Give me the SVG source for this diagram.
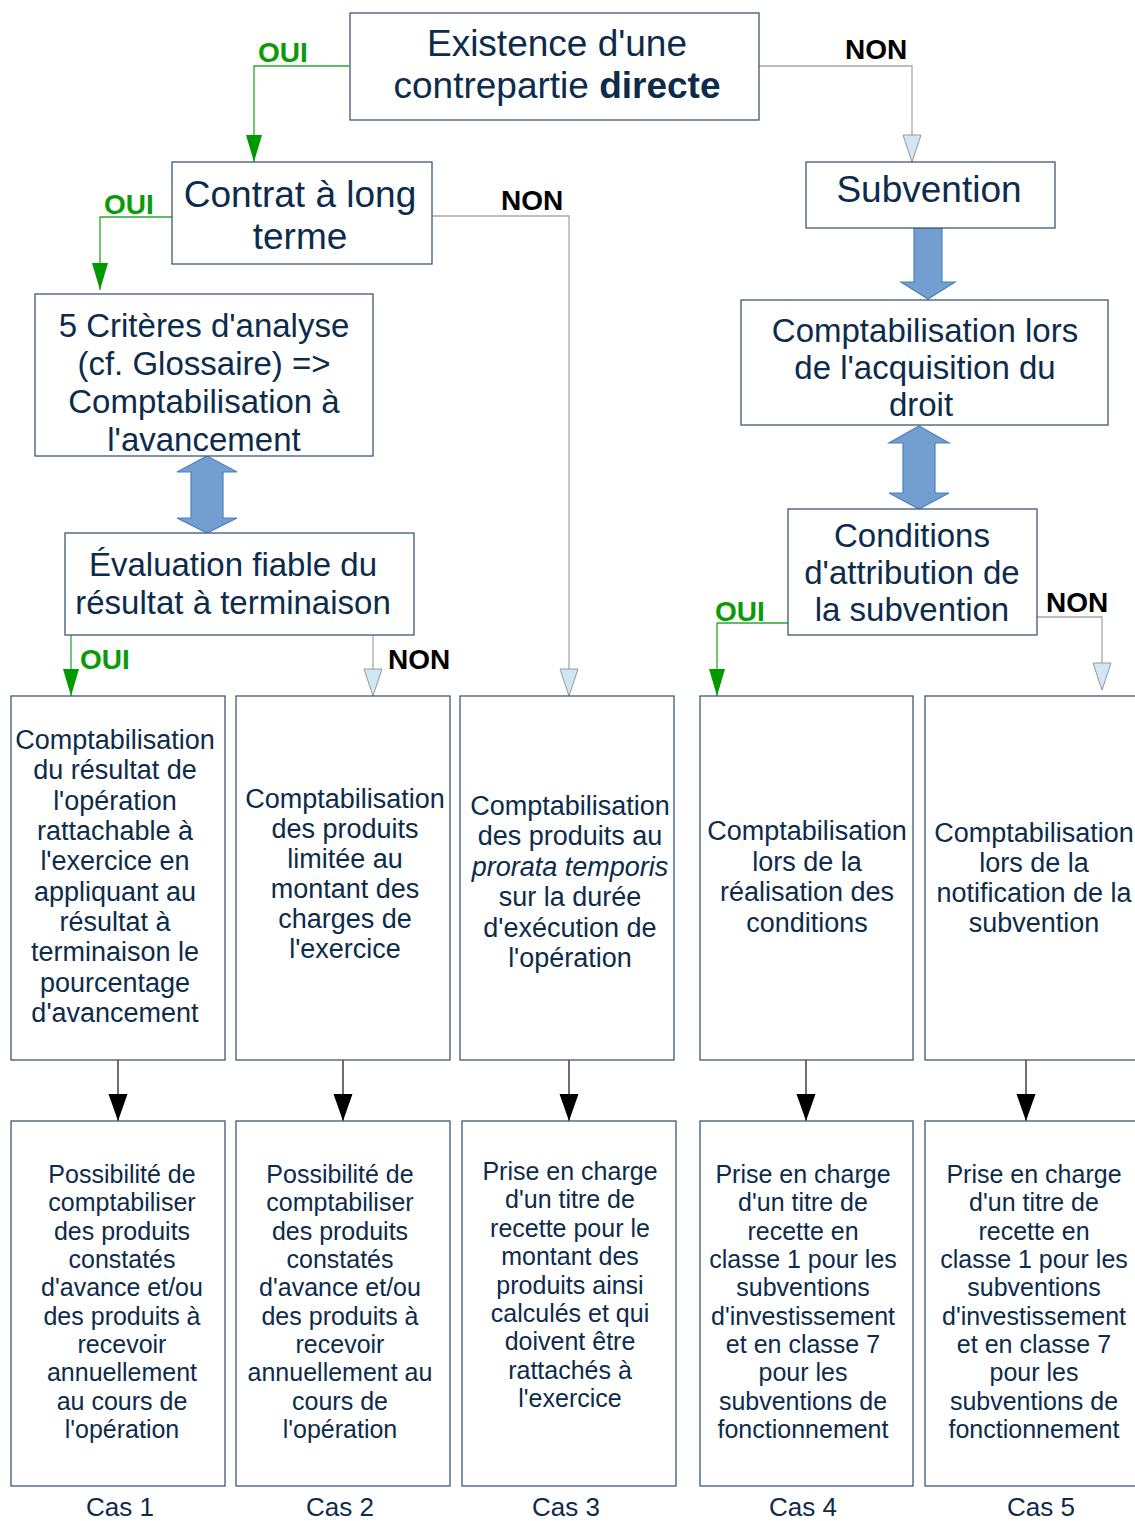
<svg xmlns="http://www.w3.org/2000/svg" width="1135" height="1521" viewBox="0 0 1135 1521">
<style>
.box{fill:#fff;stroke:#3d5877;stroke-width:1.3}
.t{font-family:"Liberation Sans",Arial,sans-serif;fill:#0d2b4b;text-anchor:middle}
.big{font-size:37px}
.mid{font-size:33px}
.m27{font-size:27px}
.m25{font-size:25px}
.cas{font-size:26px}
.lab{font-family:"Liberation Sans",Arial,sans-serif;font-size:28px;font-weight:bold}
.oui{fill:#0a9a0a}
.non{fill:#000}
.lg{fill:none;stroke:#2aa82a;stroke-width:1.3}
.lgr{fill:none;stroke:#a8a8a8;stroke-width:1.3}
.lb{fill:none;stroke:#222;stroke-width:1.3}
.fat{fill:#729fcf;stroke:#4f7fbf;stroke-width:1.2}
</style>
<defs>
<marker id="ag" markerUnits="userSpaceOnUse" markerWidth="30" markerHeight="20" refX="27" refY="8" orient="auto" overflow="visible"><path d="M0,0 L27,8 L0,16 z" fill="#009900"/></marker>
<marker id="ab" markerUnits="userSpaceOnUse" markerWidth="30" markerHeight="20" refX="27" refY="9" orient="auto" overflow="visible"><path d="M0,0 L27,9 L0,18 z" fill="#d0e6f4" stroke="#999" stroke-width="1"/></marker>
<marker id="ak" markerUnits="userSpaceOnUse" markerWidth="30" markerHeight="22" refX="27" refY="9.5" orient="auto" overflow="visible"><path d="M0,0 L27,9.5 L0,19 z" fill="#000"/></marker>
</defs>

<g id="connectors">
<polyline class="lg" points="349,66 254,66 254,162" marker-end="url(#ag)"/>
<polyline class="lgr" points="759,66 912,66 912,162" marker-end="url(#ab)"/>
<polyline class="lg" points="172,217 100,217 100,290" marker-end="url(#ag)"/>
<polyline class="lgr" points="432,216 569,216 569,696" marker-end="url(#ab)"/>
<line class="lg" x1="71" y1="635" x2="71" y2="696" marker-end="url(#ag)"/>
<line class="lgr" x1="373" y1="635" x2="373" y2="696" marker-end="url(#ab)"/>
<polyline class="lg" points="788,623 717,623 717,696" marker-end="url(#ag)"/>
<polyline class="lgr" points="1037,617 1102,617 1102,690" marker-end="url(#ab)"/>
<path class="fat" d="M207,456 L237,472 L223,472 L223,518 L237,518 L207,533 L177,518 L191,518 L191,472 L177,472 Z"/>
<path class="fat" d="M914,228 L942,228 L942,282 L955,282 L928,299 L901,282 L914,282 Z"/>
<path class="fat" d="M919,426 L949,443 L935,443 L935,493 L949,493 L919,509 L889,493 L903,493 L903,443 L889,443 Z"/>
<line class="lb" x1="118" y1="1060" x2="118" y2="1121" marker-end="url(#ak)"/>
<line class="lb" x1="343" y1="1060" x2="343" y2="1121" marker-end="url(#ak)"/>
<line class="lb" x1="569" y1="1060" x2="569" y2="1121" marker-end="url(#ak)"/>
<line class="lb" x1="806" y1="1060" x2="806" y2="1121" marker-end="url(#ak)"/>
<line class="lb" x1="1026" y1="1060" x2="1026" y2="1121" marker-end="url(#ak)"/>
<text class="lab oui" x="258" y="62">OUI</text>
<text class="lab non" x="845" y="59">NON</text>
<text class="lab oui" x="104" y="214">OUI</text>
<text class="lab non" x="501" y="210">NON</text>
<text class="lab oui" x="80" y="669">OUI</text>
<text class="lab non" x="388" y="669">NON</text>
<text class="lab oui" x="715" y="621">OUI</text>
<text class="lab non" x="1046" y="612">NON</text>
</g>

<g id="n-existence">
<rect class="box" x="350" y="13" width="409" height="107"/>
<text class="t big"><tspan x="557" y="56">Existence d'une</tspan><tspan x="557" y="98">contrepartie <tspan font-weight="bold">directe</tspan></tspan></text>
</g>

<g id="n-contrat">
<rect class="box" x="172" y="162" width="260" height="102"/>
<text class="t big"><tspan x="300" y="207">Contrat à long</tspan><tspan x="300" y="249">terme</tspan></text>
</g>

<g id="n-criteres">
<rect class="box" x="35" y="294" width="338" height="162"/>
<text class="t mid"><tspan x="204" y="337">5 Critères d'analyse</tspan><tspan x="204" y="375">(cf. Glossaire) =&gt;</tspan><tspan x="204" y="413">Comptabilisation à</tspan><tspan x="204" y="451">l'avancement</tspan></text>
</g>

<g id="n-evaluation">
<rect class="box" x="65" y="533" width="349" height="102"/>
<text class="t mid"><tspan x="233" y="576">Évaluation fiable du</tspan><tspan x="233" y="614">résultat à terminaison</tspan></text>
</g>

<g id="n-subvention">
<rect class="box" x="806" y="162" width="249" height="66"/>
<text class="t big" x="929" y="202">Subvention</text>
</g>

<g id="n-acquisition">
<rect class="box" x="741" y="300" width="367" height="125"/>
<text class="t mid"><tspan x="925" y="342">Comptabilisation lors</tspan><tspan x="925" y="379">de l'acquisition du</tspan><tspan x="921" y="416">droit</tspan></text>
</g>

<g id="n-conditions">
<rect class="box" x="788" y="509" width="249" height="126"/>
<text class="t mid"><tspan x="912" y="547">Conditions</tspan><tspan x="912" y="584">d'attribution de</tspan><tspan x="912" y="621">la subvention</tspan></text>
</g>

<g id="n-m1">
<rect class="box" x="11" y="696" width="214" height="364"/>
<text class="t m27"><tspan x="115" y="749">Comptabilisation</tspan><tspan x="115" y="779.3">du résultat de</tspan><tspan x="115" y="809.7">l'opération</tspan><tspan x="115" y="840">rattachable à</tspan><tspan x="115" y="870.3">l'exercice en</tspan><tspan x="115" y="900.7">appliquant au</tspan><tspan x="115" y="931">résultat à</tspan><tspan x="115" y="961.3">terminaison le</tspan><tspan x="115" y="991.7">pourcentage</tspan><tspan x="115" y="1022">d'avancement</tspan></text>
</g>

<g id="n-m2">
<rect class="box" x="236" y="696" width="214" height="364"/>
<text class="t m27"><tspan x="345" y="808">Comptabilisation</tspan><tspan x="345" y="838">des produits</tspan><tspan x="345" y="868">limitée au</tspan><tspan x="345" y="898">montant des</tspan><tspan x="345" y="928">charges de</tspan><tspan x="345" y="958">l'exercice</tspan></text>
</g>

<g id="n-m3">
<rect class="box" x="460" y="696" width="214" height="364"/>
<text class="t m27"><tspan x="570" y="815">Comptabilisation</tspan><tspan x="570" y="845.4">des produits au</tspan><tspan x="570" y="875.8" font-style="italic">prorata temporis</tspan><tspan x="570" y="906.2">sur la durée</tspan><tspan x="570" y="936.6">d'exécution de</tspan><tspan x="570" y="967">l'opération</tspan></text>
</g>

<g id="n-m4">
<rect class="box" x="700" y="696" width="213" height="364"/>
<text class="t m27"><tspan x="807" y="840">Comptabilisation</tspan><tspan x="807" y="870.7">lors de la</tspan><tspan x="807" y="901.3">réalisation des</tspan><tspan x="807" y="932">conditions</tspan></text>
</g>

<g id="n-m5">
<rect class="box" x="925" y="696" width="215" height="364"/>
<text class="t m27"><tspan x="1034" y="842">Comptabilisation</tspan><tspan x="1034" y="872">lors de la</tspan><tspan x="1034" y="902">notification de la</tspan><tspan x="1034" y="932">subvention</tspan></text>
</g>

<g id="n-b1">
<rect class="box" x="11" y="1121" width="214" height="365"/>
<text class="t m25"><tspan x="122" y="1183">Possibilité de</tspan><tspan x="122" y="1211.3">comptabiliser</tspan><tspan x="122" y="1239.7">des produits</tspan><tspan x="122" y="1268">constatés</tspan><tspan x="122" y="1296.3">d'avance et/ou</tspan><tspan x="122" y="1324.7">des produits à</tspan><tspan x="122" y="1353">recevoir</tspan><tspan x="122" y="1381.3">annuellement</tspan><tspan x="122" y="1409.7">au cours de</tspan><tspan x="122" y="1438">l'opération</tspan></text>
</g>

<g id="n-b2">
<rect class="box" x="236" y="1121" width="214" height="365"/>
<text class="t m25"><tspan x="340" y="1183">Possibilité de</tspan><tspan x="340" y="1211.3">comptabiliser</tspan><tspan x="340" y="1239.7">des produits</tspan><tspan x="340" y="1268">constatés</tspan><tspan x="340" y="1296.3">d'avance et/ou</tspan><tspan x="340" y="1324.7">des produits à</tspan><tspan x="340" y="1353">recevoir</tspan><tspan x="340" y="1381.3">annuellement au</tspan><tspan x="340" y="1409.7">cours de</tspan><tspan x="340" y="1438">l'opération</tspan></text>
</g>

<g id="n-b3">
<rect class="box" x="462" y="1121" width="214" height="365"/>
<text class="t m25"><tspan x="570" y="1180">Prise en charge</tspan><tspan x="570" y="1208.4">d'un titre de</tspan><tspan x="570" y="1236.8">recette pour le</tspan><tspan x="570" y="1265.2">montant des</tspan><tspan x="570" y="1293.6">produits ainsi</tspan><tspan x="570" y="1322">calculés et qui</tspan><tspan x="570" y="1350.4">doivent être</tspan><tspan x="570" y="1378.8">rattachés à</tspan><tspan x="570" y="1407.2">l'exercice</tspan></text>
</g>

<g id="n-b4">
<rect class="box" x="700" y="1121" width="213" height="365"/>
<text class="t m25"><tspan x="803" y="1183">Prise en charge</tspan><tspan x="803" y="1211.3">d'un titre de</tspan><tspan x="803" y="1239.7">recette en</tspan><tspan x="803" y="1268">classe 1 pour les</tspan><tspan x="803" y="1296.3">subventions</tspan><tspan x="803" y="1324.7">d'investissement</tspan><tspan x="803" y="1353">et en classe 7</tspan><tspan x="803" y="1381.3">pour les</tspan><tspan x="803" y="1409.7">subventions de</tspan><tspan x="803" y="1438">fonctionnement</tspan></text>
</g>

<g id="n-b5">
<rect class="box" x="925" y="1121" width="215" height="365"/>
<text class="t m25"><tspan x="1034" y="1183">Prise en charge</tspan><tspan x="1034" y="1211.3">d'un titre de</tspan><tspan x="1034" y="1239.7">recette en</tspan><tspan x="1034" y="1268">classe 1 pour les</tspan><tspan x="1034" y="1296.3">subventions</tspan><tspan x="1034" y="1324.7">d'investissement</tspan><tspan x="1034" y="1353">et en classe 7</tspan><tspan x="1034" y="1381.3">pour les</tspan><tspan x="1034" y="1409.7">subventions de</tspan><tspan x="1034" y="1438">fonctionnement</tspan></text>
</g>

<g id="cas-labels">
<text class="t cas" x="120" y="1516">Cas 1</text>
<text class="t cas" x="340" y="1516">Cas 2</text>
<text class="t cas" x="566" y="1516">Cas 3</text>
<text class="t cas" x="803" y="1516">Cas 4</text>
<text class="t cas" x="1041" y="1516">Cas 5</text>
</g>
</svg>
